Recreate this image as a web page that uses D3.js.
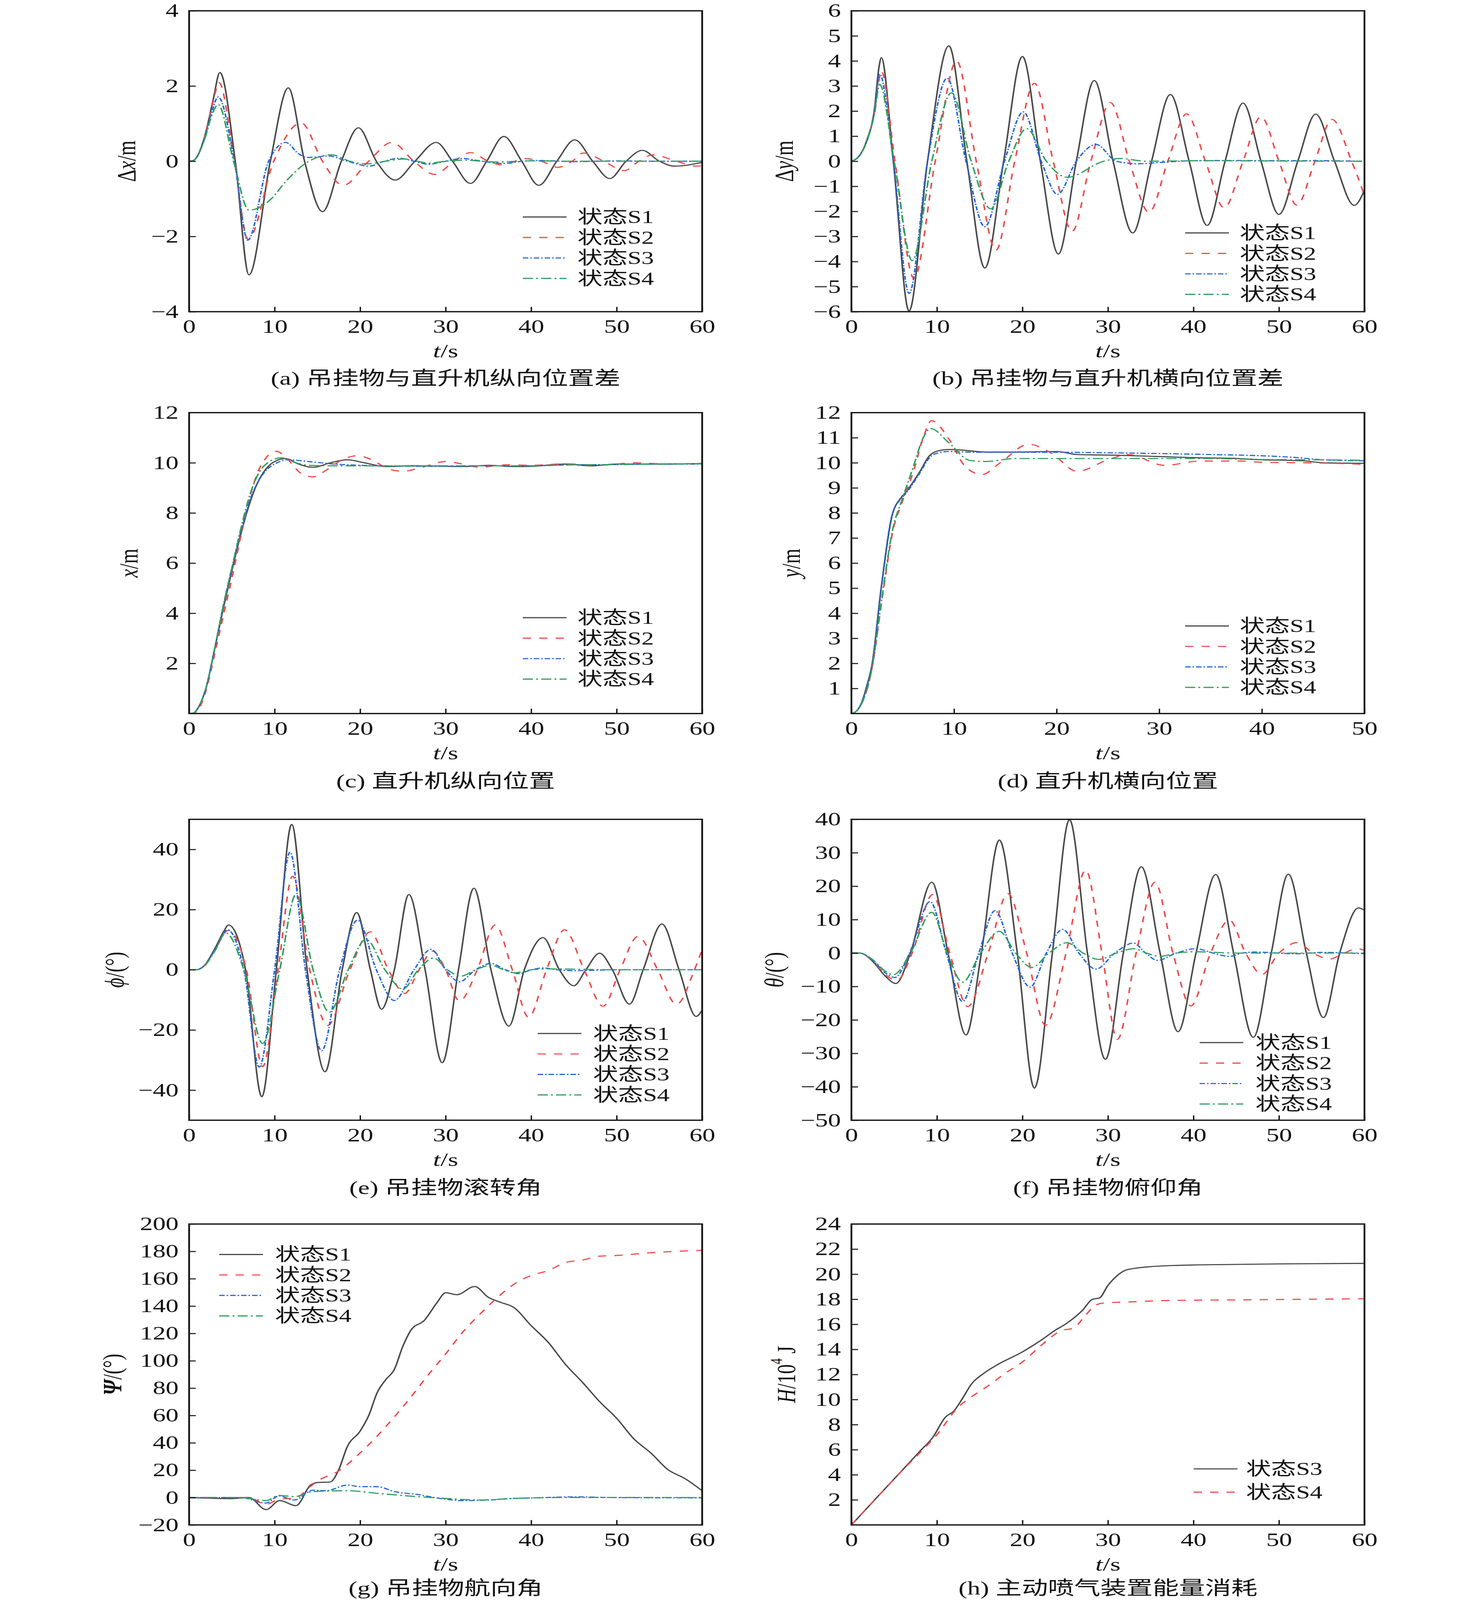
<!DOCTYPE html>
<html>
<head>
<meta charset="utf-8">
<script src="https://cdn.jsdelivr.net/npm/d3@7"></script>
<style>
  html, body { margin: 0; padding: 0; background: #fff; overflow: hidden; }
  svg { display: block; }
  text { font-family: "Liberation Serif", "Times New Roman", "Noto Sans CJK SC", serif; fill: #111; }
</style>
</head>
<body>
<div id="chart"></div>
<script>
// ---- values: [t (s), value] ----

// (a) Δx/m
const aS1 = [[0,0],[0.5,0.02],[1.8,0.64],[2.8,1.62],[3.6,2.36],[5.4,0],[7.0,-3.02],[9.5,0],[11.6,1.95],[13.5,0],[15.6,-1.34],[17.8,0],[19.8,0.89],[21.9,0],[24.1,-0.5],[26.4,0],[28.9,0.5],[30.8,0],[32.9,-0.59],[34.8,0],[36.8,0.66],[38.9,0],[40.9,-0.64],[43.0,0],[45.1,0.57],[47.2,0],[49.2,-0.46],[51.1,0],[53.0,0.29],[55.0,0],[56.8,-0.13],[60,-0.03]];
const aS2 = [[0,0],[0.5,0.02],[1.8,0.62],[2.8,1.58],[3.5,2.09],[5.3,0],[6.9,-2.08],[9.9,0],[13.1,1.02],[15.6,0],[18.0,-0.64],[21.0,0],[23.7,0.5],[26.3,0],[28.7,-0.35],[31.0,0],[32.9,0.23],[35.0,0],[36.7,-0.1],[39.2,0.07],[41.2,0],[43.1,-0.16],[44.8,0],[46.1,0.22],[48.5,0],[50.9,-0.25],[52.6,0],[54.2,0.17],[57.0,0],[59.3,-0.13],[60,-0.12]];
const aS3 = [[0,0],[0.5,0.02],[1.8,0.6],[2.7,1.35],[3.4,1.71],[5.3,0],[6.85,-2.1],[9.3,0],[11.3,0.5],[12.8,0.2],[13.8,0.1],[16.3,0.14],[18.5,0],[21.1,-0.13],[22.8,0],[24.6,0.08],[26.3,0],[28.0,-0.08],[30.0,0],[31.9,0.075],[34.3,0],[36.7,-0.06],[39,0],[41,0.02],[45,-0.01],[50,0.01],[55,0],[60,0]];
const aS4 = [[0,0],[0.5,0.02],[1.8,0.58],[2.7,1.25],[3.4,1.51],[5.2,0],[7.0,-1.3],[9.6,-1.0],[11.3,-0.54],[14.0,0],[16.7,0.17],[18.8,0],[20.8,-0.07],[23,0],[25.2,0.06],[26.7,0],[28,-0.05],[30,0],[32,0.03],[36,-0.02],[40,0.01],[45,0],[60,0]];

// (b) Δy/m
const bS1 = [[0,0],[1,0.25],[1.8,0.84],[2.7,2.1],[3.2,3.7],[3.5,4.13],[4.9,0],[6.74,-5.97],[8.9,0],[11.4,4.6],[13.5,0],[15.6,-4.26],[17.8,0],[20.0,4.18],[22.1,0],[24.2,-3.7],[26.3,0],[28.4,3.22],[30.6,0],[32.9,-2.86],[35.1,0],[37.3,2.66],[39.5,0],[41.6,-2.56],[43.7,0],[45.8,2.32],[47.9,0],[50.0,-2.12],[52.2,0],[54.3,1.88],[56.5,0],[58.8,-1.76],[60,-1.15]];
const bS2 = [[0,0],[1,0.25],[1.8,0.82],[2.7,2.0],[3.2,3.2],[3.5,3.58],[5.1,0],[7.3,-4.67],[9.8,0],[12.3,4.0],[14.6,0],[16.9,-3.55],[19.1,0],[21.4,3.11],[23.6,0],[25.8,-2.8],[28.0,0],[30.3,2.34],[32.5,0],[34.8,-2.04],[37.0,0],[39.2,1.89],[41.4,0],[43.6,-1.86],[45.8,0],[47.9,1.78],[50.0,0],[52.1,-1.75],[54.2,0],[56.2,1.67],[58.5,0],[60,-1.35]];
const bS3 = [[0,0],[1,0.25],[1.8,0.8],[2.7,2.0],[3.3,3.48],[4.9,0],[6.74,-5.27],[8.9,0],[11.2,3.31],[13.4,0],[15.6,-2.61],[17.9,0],[20.1,1.97],[22.2,0],[24.1,-1.32],[26.3,0],[28.6,0.67],[31,0],[33.6,-0.1],[36,-0.05],[40,0.02],[45,0.03],[50,0.02],[55,0.02],[60,0]];
const bS4 = [[0,0],[1,0.25],[1.8,0.8],[2.7,1.9],[3.3,3.07],[5.0,0],[7.1,-3.96],[9.4,0],[11.7,2.73],[14.0,0],[16.3,-1.9],[18.4,0],[20.5,1.3],[22.8,0],[25.2,-0.64],[29.5,0],[31.4,0.11],[34.5,0],[40,0.02],[50,0.01],[60,0]];

// (c) x/m
const cS1 = [[0,0],[0.5,0.02],[1,0.2],[2,1.05],[3,2.6],[4,4.2],[5,5.7],[6,7.1],[7,8.3],[8,9.2],[9,9.76],[10,10.05],[11.3,10.17],[12.8,9.95],[14.5,9.82],[16.5,10.0],[18.5,10.12],[20.5,10.0],[23,9.85],[26,9.88],[29,9.87],[32,9.85],[35,9.9],[38,9.85],[40,9.86],[44,9.95],[47,9.88],[50,9.95],[55,9.95],[60,9.97]];
const cS2 = [[0,0],[0.5,0.02],[1,0.12],[2,0.95],[3,2.4],[4,3.9],[5,5.4],[6,7.0],[7,8.5],[8,9.6],[9,10.2],[10.2,10.46],[11.5,10.15],[13,9.6],[14.5,9.44],[16,9.7],[17.8,10.1],[19.6,10.28],[21.5,10.1],[23,9.8],[25,9.66],[27,9.8],[30,10.05],[32,9.95],[34,9.82],[37,9.92],[40,9.9],[44,9.96],[48,9.9],[52,10.0],[56,9.95],[60,9.98]];
const cS3 = [[0,0],[0.5,0.02],[1,0.2],[2,1.05],[3,2.6],[4,4.3],[5,5.8],[6,7.2],[7,8.4],[8,9.2],[9,9.7],[10,9.95],[11.5,10.12],[14,10.05],[17,9.95],[20,9.9],[25,9.87],[30,9.86],[35,9.88],[40,9.88],[45,9.92],[50,9.93],[55,9.95],[60,9.95]];
const cS4 = [[0,0],[0.5,0.02],[1,0.2],[2,1.05],[3,2.6],[4,4.3],[5,5.8],[6,7.3],[7,8.6],[8,9.5],[9,9.95],[10.8,10.2],[12.5,10.0],[14,9.9],[17,9.88],[20,9.88],[25,9.87],[30,9.88],[35,9.88],[40,9.88],[45,9.92],[50,9.93],[55,9.95],[60,9.96]];

// (d) y/m
const dS1 = [[0,0],[0.5,0.1],[1,0.44],[1.5,1.1],[2,1.93],[2.9,5.0],[3.95,7.87],[4.8,8.59],[5.25,8.8],[6.6,9.6],[7.6,10.28],[8.5,10.48],[9.5,10.53],[11,10.5],[13,10.43],[16,10.43],[20,10.45],[22,10.33],[26,10.3],[30,10.25],[34,10.2],[37,10.18],[40,10.12],[44,10.08],[46,10.0],[50,9.98]];
const dS2 = [[0,0],[0.5,0.1],[1,0.4],[2,1.8],[3,4.6],[4,7.2],[5,8.5],[6,9.6],[7,11.0],[7.8,11.68],[9.5,10.95],[11,9.9],[12.7,9.53],[14.5,10.0],[17.3,10.74],[19.5,10.38],[22,9.66],[25,10.12],[27,10.33],[30.5,9.9],[34,10.07],[38,10.07],[40,10.02],[44,10.0],[47,9.98],[50,9.94]];
const dS3 = [[0,0],[0.5,0.1],[1,0.44],[1.5,1.1],[2,1.93],[2.9,5.0],[3.95,7.9],[4.8,8.55],[5.25,8.75],[6.6,9.55],[7.6,10.2],[8.5,10.4],[9.5,10.45],[12,10.42],[16,10.42],[20,10.42],[25,10.4],[30,10.37],[35,10.33],[40,10.28],[43,10.22],[46,10.12],[50,10.08]];
const dS4 = [[0,0],[0.5,0.1],[1,0.4],[2,1.8],[3,4.7],[4,7.3],[5,8.6],[6,9.8],[7,11.0],[7.7,11.37],[9.5,10.8],[11.5,10.1],[13,10.05],[16,10.17],[20,10.17],[25,10.17],[30,10.17],[35,10.17],[40,10.13],[45,10.12],[50,10.1]];

// (e) ϕ/(°)
const eS1 = [[0,0],[0.8,0],[1.8,1.5],[3.0,7],[4.1,13],[4.6,14.9],[6.6,0],[8.5,-42.2],[10.2,0],[12.0,48.3],[13.8,0],[15.9,-33.9],[17.9,0],[19.6,19.0],[21.2,0],[22.5,-13.1],[24.0,0],[25.7,25.0],[27.6,0],[29.6,-30.9],[31.5,0],[33.3,27.1],[35.3,0],[37.4,-18.7],[39.2,0],[41.4,10.7],[43.3,0],[45.0,-5.3],[46.4,0],[48.0,5.5],[49.5,0],[51.5,-11.4],[53.1,0],[55.3,15.2],[57.3,0],[59.3,-15.5],[60,-13.4]];
const eS2 = [[0,0],[0.8,0],[1.8,1.4],[3.0,6.5],[4.6,13.1],[6.7,0],[8.6,-32.2],[10.4,0],[12.1,31.1],[14.1,0],[16.2,-18.5],[18.8,0],[21.2,12.6],[23.3,0],[25.2,-7.85],[26.9,0],[28.5,6.2],[30.0,0],[31.6,-10.4],[33.7,0],[35.8,14.9],[37.8,0],[39.7,-15.8],[41.8,0],[43.9,13.3],[46.2,0],[48.4,-12.1],[50.4,0],[52.5,11.1],[54.8,0],[57.0,-11.5],[59.1,0],[60,6.7]];
const eS3 = [[0,0],[0.8,0],[1.8,1.4],[3.0,6.5],[4.5,13.3],[6.4,0],[8.2,-32.3],[10.0,0],[11.8,39.1],[13.6,0],[15.5,-26.9],[17.6,0],[19.7,16.5],[21.9,0],[24.0,-10.2],[26.3,0],[28.3,6.8],[30.0,0],[31.6,-4.0],[33.5,0],[35.3,2.1],[37.0,0],[38.6,-1.3],[40.0,0],[41.4,0.6],[43,0],[45,-0.3],[50,0],[60,0]];
const eS4 = [[0,0],[0.8,0],[1.8,1.3],[3.0,6.2],[4.3,12.2],[6.4,0],[8.6,-24.5],[10.6,0],[12.5,25.0],[14.5,0],[16.4,-14.1],[18.6,0],[20.7,10.1],[22.9,0],[25.0,-6.4],[26.8,0],[28.6,3.9],[30.2,0],[31.8,-2.1],[33.5,0],[35.3,1.5],[36.8,0],[38,-1.0],[40,0],[42,0.3],[50,0],[60,0]];

// (f) θ/(°)
const fS1 = [[0,0],[1,0],[2.5,-2.5],[4,-7],[5.2,-9.1],[6.9,0],[9.4,21.2],[11.3,0],[13.4,-24.5],[15.2,0],[17.3,33.8],[19.4,0],[21.4,-40.4],[23.5,0],[25.5,39.9],[27.6,0],[29.7,-31.8],[31.8,0],[33.9,25.8],[36.1,0],[38.2,-23.5],[40.3,0],[42.6,23.5],[44.7,0],[47.0,-25.2],[49.1,0],[51.1,23.6],[53.2,0],[55.2,-19.3],[57.1,0],[59.3,13.5],[60,12.8]];
const fS2 = [[0,0],[1,0],[2.5,-2.3],[4,-6.5],[5.3,-8.2],[7.1,0],[9.5,17.5],[11.5,0],[13.6,-16.0],[16.0,0],[18.3,17.8],[20.5,0],[22.7,-21.6],[25.1,0],[27.4,24.8],[29.3,0],[31.1,-25.8],[33.3,0],[35.5,21.2],[37.6,0],[39.7,-15.8],[42.0,0],[44.2,9.9],[46.1,0],[48.0,-6.4],[50.0,0],[52.1,3.1],[54,0],[55.9,-1.8],[57.6,0],[59.2,1.3],[60,0.8]];
const fS3 = [[0,0],[1,0],[2.5,-2.2],[4,-6],[5.1,-7.3],[6.8,0],[9.2,15.4],[11.1,0],[13.0,-14.5],[14.9,0],[16.8,12.7],[18.8,0],[20.9,-10.2],[22.8,0],[24.7,7.1],[26.6,0],[28.6,-4.8],[30.8,0],[33.0,3.0],[34.4,0],[35.8,-2.2],[38,0],[40.3,1.3],[42.3,0],[44.2,-1.0],[45.7,0],[47.2,0.3],[52,-0.2],[55,0.2],[60,-0.2]];
const fS4 = [[0,0],[1,0],[2.5,-2],[4,-5.5],[4.9,-6.5],[6.9,0],[9.4,12.2],[11.2,0],[13.0,-8.7],[15.1,0],[17.3,6.5],[19.2,0],[21.1,-4.3],[23.1,0],[25.2,3.1],[27.1,0],[28.9,-1.9],[31.0,0],[33.0,1.3],[34.5,0],[36.1,-1.0],[38,0],[40.3,0.4],[45,0],[60,0]];

// (g) Ψ/(°)
const gS1 = [[0,0],[5,-0.8],[7,0],[9,-8.8],[10.6,-2.2],[12.5,-5.9],[14.2,9.1],[15,11],[16.5,11.4],[17.5,20.4],[18.5,37.3],[20,48.6],[21,59.9],[22,76.8],[23,86.2],[24,93.7],[25,110.7],[26,122.9],[27.5,129.5],[29,142.6],[30,149.8],[31.3,148.3],[33.4,154.3],[35,146.4],[36.5,142.6],[38,138.9],[40,125.7],[42,113.5],[44,97.5],[46,84.3],[48,70.2],[50,58.0],[52,43],[54,32.6],[56,20.4],[58,13.8],[60,5.0]];
const gS2 = [[0,0],[7,0],[9,-5],[10.5,-1.2],[12.5,-0.3],[14,7.2],[15,12],[17.5,19.5],[20,32.6],[22,45],[24,59],[26,74],[28,90],[30,105],[32,121],[34,134],[36,146],[38,156],[40,162.4],[42,166],[44,171.8],[46,173.7],[48,176.5],[50,177],[54,179],[60,180.8]];
const gS3 = [[0,0],[6,0],[9,-4],[10.5,1.2],[12.3,-1.8],[14.5,5.4],[16,5],[18.5,9.1],[20,8],[22,8],[24,4.4],[27,2],[29,-0.3],[32,-2.2],[35,-1.8],[38,-0.6],[40,-0.3],[45,0.5],[50,0],[60,-0.2]];
const gS4 = [[0,0],[6,0],[9,-2.2],[10.5,1.6],[12.3,0.7],[14.5,4.4],[18.5,5.0],[22,3.1],[26,1.0],[30,-0.6],[34,-1.8],[38,-0.6],[45,0.1],[60,0]];

// (h) H/10^4 J
const hS3 = [[0,0],[2,1.47],[4,2.94],[6,4.4],[8,5.87],[9.5,6.97],[11,8.6],[12,9.1],[13,10.1],[14,11.2],[15.5,12.1],[17,12.75],[20,13.8],[22,14.65],[24,15.6],[25,16.0],[27,17.1],[28.2,18.0],[29,18.1],[30,19.1],[32,20.3],[33,20.45],[35,20.6],[38,20.7],[45,20.78],[50,20.82],[60,20.86]];
const hS4 = [[0,0],[2,1.47],[4,2.94],[6,4.38],[8,5.75],[10,7.2],[12.5,9.4],[14,10.2],[16,11.1],[18,12.1],[20,13.0],[22,14.2],[24,15.3],[24.5,15.5],[26,15.7],[27,16.4],[28.5,17.5],[29.5,17.7],[33,17.8],[37,17.9],[45,17.95],[60,18.04]];

// tick values
const ticks60 = [0, 10, 20, 30, 40, 50, 60];
const ticks50 = [0, 10, 20, 30, 40, 50];
const yTicksA = [-4, -2, 0, 2, 4];
const yTicksB = [-6, -5, -4, -3, -2, -1, 0, 1, 2, 3, 4, 5, 6];
const yTicksC = [2, 4, 6, 8, 10, 12];
const yTicksD = [1, 2, 3, 4, 5, 6, 7, 8, 9, 10, 11, 12];
const yTicksE = [-40, -20, 0, 20, 40];
const yTicksF = [-50, -40, -30, -20, -10, 0, 10, 20, 30, 40];
const yTicksG = [-20, 0, 20, 40, 60, 80, 100, 120, 140, 160, 180, 200];
const yTicksH = [2, 4, 6, 8, 10, 12, 14, 16, 18, 20, 22, 24];

const legendNames = ["状态S1", "状态S2", "状态S3", "状态S4"];
const legendNamesH = ["状态S3", "状态S4"];

const styles = [
  { color: "#4a4a4a", dash: null },
  { color: "#ef4a4a", dash: "21,21" },
  { color: "#2566d8", dash: "14,5,4,5" },
  { color: "#2f9f5f", dash: "26,8,5,8" }
];

// figure is laid out on a 3780 x 5626 canvas, then fitted to the window
const W = 3780, H = 5626;
const PW = 1313, PH = 1058;
const colX = [484, 2179];
const rowY = [38, 1451, 2881, 4304];

const vw = window.innerWidth || W;
const vh = window.innerHeight || H;

const svg = d3.select("#chart").append("svg")
  .attr("width", vw).attr("height", vh)
  .attr("viewBox", `0 0 ${W} ${H}`)
  .attr("preserveAspectRatio", "none")
  .style("background", "#fff");

const panels = [
  { id: "a", x: colX[0], y: rowY[0], xd: [0, 60], xt: ticks60, yd: [-4, 4], yt: yTicksA,
    series: [aS1, aS2, aS3, aS4], sty: [0, 1, 2, 3], names: legendNames,
    ylab: [["Δ", ""], ["x", "i"], ["/m", ""]], yOff: 161,
    leg: { lx: 854, tx: 994, ty: 725, dy: 72 }, cap: "(a) 吊挂物与直升机纵向位置差", capDy: 234 },
  { id: "b", x: colX[1], y: rowY[0], xd: [0, 60], xt: ticks60, yd: [-6, 6], yt: yTicksB,
    series: [bS1, bS2, bS3, bS4], sty: [0, 1, 2, 3], names: legendNames,
    ylab: [["Δ", ""], ["y", "i"], ["/m", ""]], yOff: 173,
    leg: { lx: 854, tx: 994, ty: 781, dy: 72 }, cap: "(b) 吊挂物与直升机横向位置差", capDy: 234 },
  { id: "c", x: colX[0], y: rowY[1], xd: [0, 60], xt: ticks60, yd: [0, 12], yt: yTicksC,
    series: [cS1, cS2, cS3, cS4], sty: [0, 1, 2, 3], names: legendNames,
    ylab: [["x", "i"], ["/m", ""]], yOff: 155,
    leg: { lx: 854, tx: 994, ty: 721, dy: 72 }, cap: "(c) 直升机纵向位置", capDy: 238 },
  { id: "d", x: colX[1], y: rowY[1], xd: [0, 50], xt: ticks50, yd: [0, 12], yt: yTicksD,
    series: [dS1, dS2, dS3, dS4], sty: [0, 1, 2, 3], names: legendNames,
    ylab: [["y", "i"], ["/m", ""]], yOff: 155,
    leg: { lx: 854, tx: 994, ty: 750, dy: 72 }, cap: "(d) 直升机横向位置", capDy: 238 },
  { id: "e", x: colX[0], y: rowY[2], xd: [0, 60], xt: ticks60, yd: [-50, 50], yt: yTicksE,
    series: [eS1, eS2, eS3, eS4], sty: [0, 1, 2, 3], names: legendNames,
    ylab: [["ϕ", "i"], ["/(°)", ""]], yOff: 191,
    leg: { lx: 892, tx: 1034, ty: 753, dy: 72 }, cap: "(e) 吊挂物滚转角", capDy: 238 },
  { id: "f", x: colX[1], y: rowY[2], xd: [0, 60], xt: ticks60, yd: [-50, 40], yt: yTicksF,
    series: [fS1, fS2, fS3, fS4], sty: [0, 1, 2, 3], names: legendNames,
    ylab: [["θ", "i"], ["/(°)", ""]], yOff: 198,
    leg: { lx: 891, tx: 1034, ty: 785, dy: 72 }, cap: "(f) 吊挂物俯仰角", capDy: 238 },
  { id: "g", x: colX[0], y: rowY[3], xd: [0, 60], xt: ticks60, yd: [-20, 200], yt: yTicksG,
    series: [gS1, gS2, gS3, gS4], sty: [0, 1, 2, 3], names: legendNames,
    ylab: [["Ψ", "bi"], ["/(°)", ""]], yOff: 197,
    leg: { lx: 77, tx: 220, ty: 107, dy: 72 }, cap: "(g) 吊挂物航向角", capDy: 222 },
  { id: "h", x: colX[1], y: rowY[3], xd: [0, 60], xt: ticks60, yd: [0, 24], yt: yTicksH,
    series: [hS3, hS4], sty: [0, 1], names: legendNamesH,
    ylab: [["H", "i"], ["/10", ""], ["4", "sup"], [" J", ""]], yOff: 167,
    leg: { lx: 876, tx: 1010, ty: 861, dy: 82 }, cap: "(h) 主动喷气装置能量消耗", capDy: 222 }
];

function drawPanel(p) {
  const g = svg.append("g").attr("transform", `translate(${p.x},${p.y})`);
  const x = d3.scaleLinear().domain(p.xd).range([0, PW]);
  const y = d3.scaleLinear().domain(p.yd).range([PH, 0]);

  g.append("clipPath").attr("id", "clip-" + p.id)
    .append("rect").attr("width", PW).attr("height", PH);

  const line = d3.line()
    .x(d => x(d[0]))
    .y(d => y(d[1]))
    .curve(d3.curveMonotoneX);

  const plot = g.append("g").attr("clip-path", `url(#clip-${p.id})`);
  p.series.forEach((s, i) => {
    const st = styles[p.sty[i]];
    plot.append("path")
      .datum(s)
      .attr("fill", "none")
      .attr("stroke", st.color)
      .attr("stroke-width", 4)
      .attr("stroke-dasharray", st.dash)
      .attr("d", line);
  });

  // inward ticks, no domain line (frame drawn separately)
  const xAxis = d3.axisBottom(x).tickValues(p.xt).tickFormat(d3.format("d"))
    .tickSizeInner(-17).tickSizeOuter(0).tickPadding(28);
  const yAxis = d3.axisLeft(y).tickValues(p.yt).tickFormat(d3.format("d"))
    .tickSizeInner(-17).tickSizeOuter(0).tickPadding(27);

  const gx = g.append("g").attr("transform", `translate(0,${PH})`).call(xAxis);
  const gy = g.append("g").call(yAxis);
  [gx, gy].forEach(a => {
    a.select(".domain").remove();
    a.selectAll(".tick line").attr("stroke", "#111").attr("stroke-width", 3.5);
    a.selectAll(".tick text").attr("font-size", 66)
      .attr("font-family", "Liberation Serif, Times New Roman, serif").attr("fill", "#111");
  });

  g.append("rect").attr("width", PW).attr("height", PH)
    .attr("fill", "none").attr("stroke", "#111").attr("stroke-width", 4.5);

  const xl = g.append("text").attr("x", PW / 2).attr("y", PH + 138)
    .attr("text-anchor", "middle").attr("dominant-baseline", "central")
    .attr("font-size", 68);
  xl.append("tspan").attr("font-style", "italic").text("t");
  xl.append("tspan").text("/s");

  const yl = g.append("text")
    .attr("transform", `translate(${-p.yOff},${PH / 2}) rotate(-90)`)
    .attr("text-anchor", "middle").attr("dominant-baseline", "central")
    .attr("font-size", 68);
  p.ylab.forEach(([t, f]) => {
    const ts = yl.append("tspan").text(t);
    if (f === "i") ts.attr("font-style", "italic");
    if (f === "bi") ts.attr("font-style", "italic").attr("font-weight", "bold");
    if (f === "sup") ts.attr("font-size", 42).attr("dy", -26);
    if (t === " J") ts.attr("dy", 26);
  });

  const lg = g.append("g");
  p.names.forEach((n, i) => {
    const st = styles[p.sty[i]];
    const yy = p.leg.ty + i * p.leg.dy;
    lg.append("line")
      .attr("x1", p.leg.lx).attr("x2", p.leg.lx + 112)
      .attr("y1", yy).attr("y2", yy)
      .attr("stroke", st.color).attr("stroke-width", 4)
      .attr("stroke-dasharray", st.dash);
    lg.append("text").attr("x", p.leg.tx).attr("y", yy)
      .attr("dominant-baseline", "central").attr("font-size", 64)
      .text(n);
  });

  g.append("text").attr("x", PW / 2).attr("y", PH + p.capDy)
    .attr("text-anchor", "middle").attr("dominant-baseline", "central")
    .attr("font-size", 67)
    .text(p.cap);
}

panels.forEach(drawPanel);
</script>
</body>
</html>
